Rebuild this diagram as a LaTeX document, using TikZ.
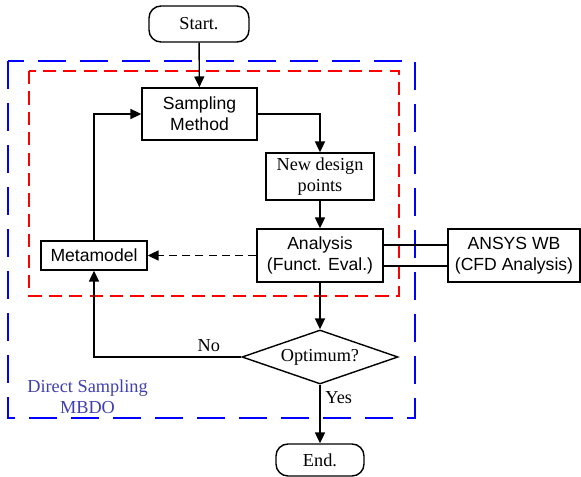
\documentclass[tikz,border=0pt]{standalone}
\usepackage{fontspec}
\setmainfont{Liberation Serif}
\setsansfont{Liberation Sans}
\usepackage{tikz}
\usetikzlibrary{arrows.meta, shapes.geometric}
\definecolor{mbdoblue}{RGB}{64,64,176}

\begin{document}
\begin{tikzpicture}[x=0.025cm, y=-0.025cm,
  box/.style={draw, line width=1pt, align=center, inner sep=0pt,
    font=\sffamily\fontsize{12.5}{15}\selectfont},
  sbox/.style={box, font=\fontsize{13}{15}\selectfont},
  term/.style={sbox, rounded corners=0.3cm},
  cond/.style={draw, diamond, aspect=2.9, inner sep=0pt, line width=1pt,
    font=\fontsize{13}{15}\selectfont},
  lbl/.style={font=\fontsize{13}{15}\selectfont},
  arr/.style={line width=1pt, -{Triangle[length=0.27cm,width=0.25cm]}},
  dasharr/.style={arr, dash pattern=on 0.2cm off 0.13cm},
  outerframe/.style={draw=blue, line width=1.4pt, dash pattern=on 0.7cm off 0.35cm},
  innerframe/.style={draw=red, line width=1.3pt, dash pattern=on 0.33cm off 0.18cm}]
\useasboundingbox (0,0) rectangle (581,477);
%
\draw[outerframe] (8,61) rectangle (415,418);
\draw[innerframe] (29,71) rectangle (399,296);
%
\node[term, minimum width=2.5cm, minimum height=0.9cm](start) at (199,24) {Start.};
%
\node[box, minimum width=2.875cm, minimum height=1.3cm](sampling) at (199.5,114) {Sampling\\Method};
\draw[arr](start) -- (sampling);
%
\node[sbox, minimum width=2.7cm, minimum height=1.175cm](newpts) at (320,176.5) {New design\\points};
\draw[arr](sampling) -| (newpts);
%
\node[box, minimum width=3.15cm, minimum height=1.325cm](analysis) at (320,255.5) {Analysis\\(Funct. Eval.)};
\draw[arr](newpts) -- (analysis);
%
\node[box, minimum width=3.3cm, minimum height=1.325cm](ansys) at (514,255.5) {ANSYS WB\\(CFD Analysis)};
\draw[line width=1pt]([yshift=0.26cm]analysis.east) -- ([yshift=0.26cm]ansys.west);
\draw[line width=1pt]([yshift=-0.26cm]analysis.east) -- ([yshift=-0.26cm]ansys.west);
%
\node[box, minimum width=2.65cm, minimum height=0.725cm](meta) at (94,255.5) {Metamodel};
\draw[dasharr](analysis) -- (meta);
\draw[arr](meta) |- (sampling);
%
\node[cond, minimum width=3.9cm, minimum height=1.35cm](optimum) at (320,357) {Optimum?};
\draw[arr](analysis) -- (optimum);
\draw[arr](optimum) -| (meta) node[lbl, pos=0.11, above] {No};
%
\node[term, minimum width=2.2cm, minimum height=0.8cm](stop) at (320,460) {End.};
\draw[arr](optimum) -- (stop) node[lbl, pos=0.22, right] {Yes};
%
\node[lbl, align=center, text=mbdoblue](mbdo) at (87.5,397) {Direct Sampling\\MBDO};
\end{tikzpicture}
\end{document}
